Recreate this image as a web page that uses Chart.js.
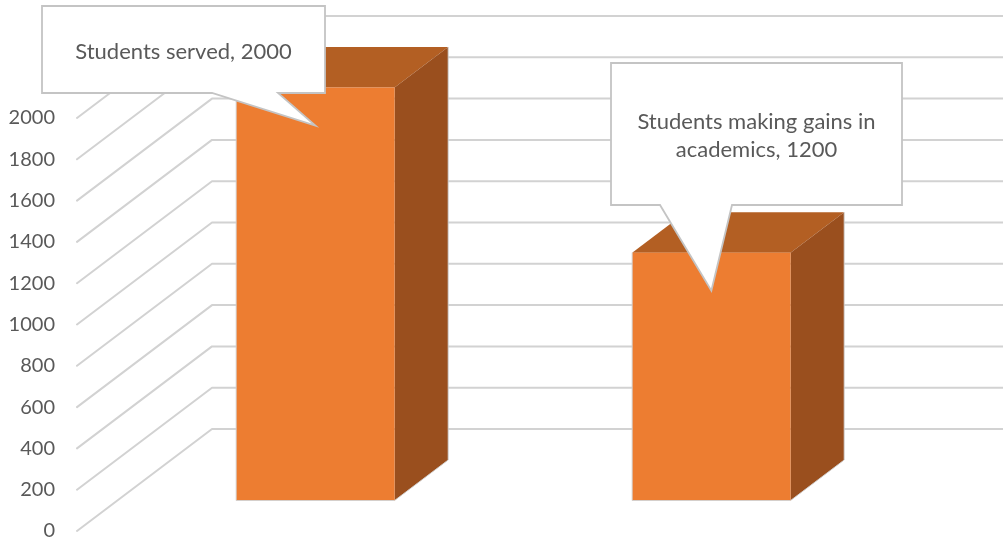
<!DOCTYPE html>
<html>
<head>
<meta charset="utf-8">
<script src="https://cdn.jsdelivr.net/npm/chart.js@4.4.1/dist/chart.umd.min.js"></script>
<style>
  html, body { margin: 0; padding: 0; background: #fff; }
  #wrap { width: 1003px; height: 542px; position: relative; }
</style>
</head>
<body>
<div id="wrap"><canvas id="chart"></canvas></div>
<script>
// Data
const categories = ['Students served', 'Students making gains in academics'];
const values = [2000, 1200];
const yTicks = [0, 200, 400, 600, 800, 1000, 1200, 1400, 1600, 1800, 2000];

// 3D look: oblique offset (per pixel of vertical lift)
const SLANT = 1.3235;
const FRONT_DEPTH = 30.5;   // bar front face
const BAR_DEPTH = 40.5;     // bar thickness
const WALL_DEPTH = 102;     // back wall

const FONT = 'Lato, "Open Sans", sans-serif';
const TEXT_COLOR = '#595959';

// Callout boxes: [left, top, right, bottom], pointer base x pair
const calloutLayout = [
    { box: [42, 6, 325, 93], base: [212, 278] },
    { box: [611, 63, 902, 205], base: [660, 732] }
];

function shift(d) {
    return { dx: d * SLANT, dy: -d };
}

// Grid: floor diagonals + back wall lines
const gridPlugin = {
    id: 'grid3d',
    beforeDatasetsDraw(chart) {
        const { ctx, scales: { y }, chartArea } = chart;
        const w = shift(WALL_DEPTH);
        ctx.save();
        ctx.strokeStyle = '#d2d2d2';
        ctx.lineWidth = 2;
        ctx.lineCap = 'round';
        ctx.lineJoin = 'round';
        yTicks.forEach(v => {
            const py = y.getPixelForValue(v);
            ctx.beginPath();
            ctx.moveTo(chartArea.left, py);
            ctx.lineTo(chartArea.left + w.dx, py + w.dy);
            ctx.lineTo(chart.width, py + w.dy);
            ctx.stroke();
        });
        ctx.restore();
    }
};

// 3D bars drawn from the native bar elements
const barPlugin = {
    id: 'bars3d',
    afterDatasetsDraw(chart) {
        const { ctx } = chart;
        const meta = chart.getDatasetMeta(0);
        const f = shift(FRONT_DEPTH);
        const b = shift(BAR_DEPTH);
        meta.data.forEach(bar => {
            const L = bar.x - bar.width / 2 + f.dx;
            const R = bar.x + bar.width / 2 + f.dx;
            const T = bar.y + f.dy;
            const B = bar.base + f.dy;
            ctx.save();
            ctx.lineJoin = 'round';
            // top face
            ctx.beginPath();
            ctx.moveTo(L, T);
            ctx.lineTo(L + b.dx, T + b.dy);
            ctx.lineTo(R + b.dx, T + b.dy);
            ctx.lineTo(R, T);
            ctx.closePath();
            ctx.fillStyle = '#b35f23';
            ctx.fill();
            // side face
            ctx.beginPath();
            ctx.moveTo(R, T);
            ctx.lineTo(R + b.dx, T + b.dy);
            ctx.lineTo(R + b.dx, B + b.dy);
            ctx.lineTo(R, B);
            ctx.closePath();
            ctx.fillStyle = '#9a4f1e';
            ctx.fill();
            ctx.strokeStyle = 'rgba(210,210,210,0.9)';
            ctx.lineWidth = 1;
            ctx.beginPath();
            ctx.moveTo(R + b.dx, T + b.dy);
            ctx.lineTo(R + b.dx, B + b.dy);
            ctx.lineTo(R, B);
            ctx.stroke();
            // front face
            ctx.fillStyle = '#ed7d31';
            ctx.fillRect(L, T, R - L, B - T);
            ctx.beginPath();
            ctx.moveTo(L, T);
            ctx.lineTo(L, B);
            ctx.lineTo(R, B);
            ctx.stroke();
            ctx.restore();
        });
    }
};

function wrapText(ctx, text, maxWidth) {
    const words = text.split(' ');
    const lines = [];
    let line = '';
    words.forEach(word => {
        const test = line ? line + ' ' + word : word;
        if (line && ctx.measureText(test).width > maxWidth) {
            lines.push(line);
            line = word;
        } else {
            line = test;
        }
    });
    if (line) lines.push(line);
    return lines;
}

// Speech-bubble data labels
const calloutPlugin = {
    id: 'callouts',
    afterDraw(chart) {
        const { ctx } = chart;
        const meta = chart.getDatasetMeta(0);
        const f = shift(FRONT_DEPTH);
        meta.data.forEach((bar, i) => {
            const lay = calloutLayout[i];
            const [l, t, r, btm] = lay.box;
            const tipX = bar.x + f.dx;
            const tipY = bar.y + f.dy + 38;
            ctx.save();
            ctx.beginPath();
            ctx.moveTo(l, t);
            ctx.lineTo(r, t);
            ctx.lineTo(r, btm);
            ctx.lineTo(lay.base[1], btm);
            ctx.lineTo(tipX, tipY);
            ctx.lineTo(lay.base[0], btm);
            ctx.lineTo(l, btm);
            ctx.closePath();
            ctx.fillStyle = '#ffffff';
            ctx.fill();
            ctx.strokeStyle = '#c4c4c4';
            ctx.lineWidth = 1.8;
            ctx.stroke();

            ctx.font = '22px ' + FONT;
            ctx.fillStyle = TEXT_COLOR;
            ctx.textAlign = 'center';
            ctx.textBaseline = 'middle';
            const label = categories[i] + ', ' + values[i];
            const lines = wrapText(ctx, label, (r - l) - 30);
            const lh = 28;
            const cy = (t + btm) / 2 + 2 - (lines.length - 1) * lh / 2;
            lines.forEach((ln, k) => ctx.fillText(ln, (l + r) / 2, cy + k * lh));
            ctx.restore();
        });
    }
};

const canvas = document.getElementById('chart');
new Chart(canvas.getContext('2d'), {
    type: 'bar',
    data: {
        labels: categories,
        datasets: [{
            data: values,
            backgroundColor: 'rgba(0,0,0,0)',
            borderWidth: 0,
            barPercentage: 0.4,
            categoryPercentage: 1
        }]
    },
    options: {
        responsive: true,
        maintainAspectRatio: false,
        animation: false,
        layout: {
            padding: { top: 118, bottom: 11, left: 0, right: 134 }
        },
        scales: {
            x: { display: false },
            y: {
                min: 0,
                max: 2000,
                afterBuildTicks(scale) {
                    scale.ticks = yTicks.map(v => ({ value: v }));
                },
                afterFit(scale) {
                    scale.width = 77;
                    scale.paddingTop = 0;
                    scale.paddingBottom = 0;
                },
                border: { display: false },
                grid: { display: false, drawTicks: false },
                ticks: {
                    padding: 22,
                    color: TEXT_COLOR,
                    font: { family: FONT, size: 20 },
                    callback: v => String(v)
                }
            }
        },
        plugins: {
            legend: { display: false },
            tooltip: { enabled: false }
        }
    },
    plugins: [gridPlugin, barPlugin, calloutPlugin]
});
</script>
</body>
</html>
